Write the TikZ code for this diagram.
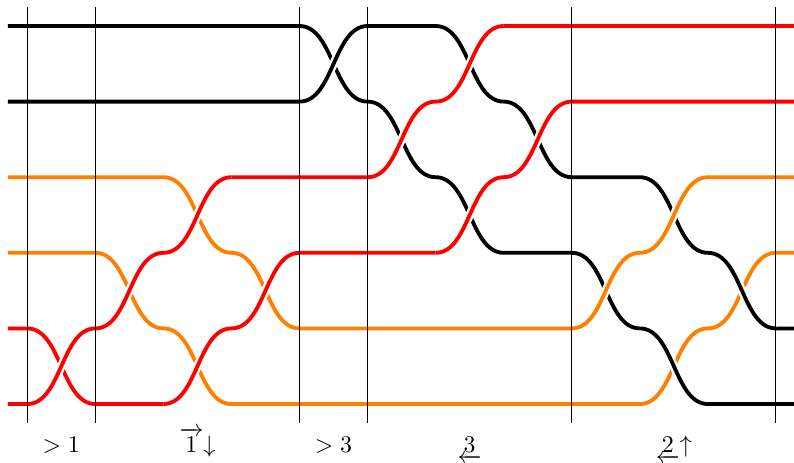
\documentclass[tikz,border=0pt]{standalone}
\usepackage{amsfonts,amssymb,amsmath}
\usepackage{xcolor}
\usepackage{tikz}
\newcommand{\braidto}[3]{.. controls (#1+0.5,#2) and (#1+0.5,#3) .. (#1+1,#3)}
\begin{document}
\begin{tikzpicture}[x=1cm,y=1.1108cm,
  strand/.style={line width=1.6pt},
  over/.style={line width=1.6pt,preaction={draw=white,line width=3.6pt}},
  cut/.style={line width=0.4pt}]
\useasboundingbox (-0.401,-0.780) rectangle (11.265,5.344);
\draw[strand,black](-0.284,5)--(4,5)\braidto{4}{5}{4}--(5,4)\braidto{5}{4}{3}--(6,3)\braidto{6}{3}{2}
--(8,2)\braidto{8}{2}{1}--(9,1)\braidto{9}{1}{0}--(11.3,0);
\draw[strand,black](-0.284,4)--(4,4)\braidto{4}{4}{5}--(6,5)\braidto{6}{5}{4}--(7,4)\braidto{7}{4}{3}
--(9,3)\braidto{9}{3}{2}--(10,2)\braidto{10}{2}{1}--(11.3,1);
\draw[strand,orange](-0.284,3)--(2,3)\braidto{2}{3}{2}--(3,2)\braidto{3}{2}{1}--(8,1)\braidto{8}{1}{2}
--(9,2)\braidto{9}{2}{3}--(11.3,3);
\draw[strand,orange](-0.284,2)--(1,2)\braidto{1}{2}{1}--(2,1)\braidto{2}{1}{0}--(9,0)\braidto{9}{0}{1}
--(10,1)\braidto{10}{1}{2}--(11.3,2);
\draw[strand,red](-0.284,1)--(0,1)\braidto{0}{1}{0}--(2,0)\braidto{2}{0}{1}--(3,1)\braidto{3}{1}{2}
--(6,2)\braidto{6}{2}{3}--(7,3)\braidto{7}{3}{4}--(11.3,4);
\draw[strand,red](-0.284,0)--(0,0)\braidto{0}{0}{1}--(1,1)\braidto{1}{1}{2}--(2,2)\braidto{2}{2}{3}
--(5,3)\braidto{5}{3}{4}--(6,4)\braidto{6}{4}{5}--(11.3,5);
\draw[over,red](0,0)\braidto{0}{0}{1}
(1,1)\braidto{1}{1}{2}
(2,2)\braidto{2}{2}{3}
(2,0)\braidto{2}{0}{1}
(3,1)\braidto{3}{1}{2}
(5,3)\braidto{5}{3}{4}
(6,4)\braidto{6}{4}{5}
(6,2)\braidto{6}{2}{3}
(7,3)\braidto{7}{3}{4};
\draw[over,black](4,4)\braidto{4}{4}{5}
(9,1)\braidto{9}{1}{0}
(10,2)\braidto{10}{2}{1};
\draw[over,orange](8,1)\braidto{8}{1}{2}
(9,2)\braidto{9}{2}{3};
\foreach \x in {0,1,4,5,8,11}
  \draw[cut](\x,-0.251)--(\x,5.251);
\node[anchor=base](gt1) at (0.5,-0.635){$>1$};
\node[anchor=base](down1) at (2.5,-0.635){$\overrightarrow{1}{\downarrow}$};
\node[anchor=base](gt3) at (4.5,-0.635){$>3$};
\node[anchor=base](left3) at (6.5,-0.635){$\underleftarrow{3}$};
\node[anchor=base](up2) at (9.5,-0.635){$\underleftarrow{2}{\uparrow}$};
\end{tikzpicture}
\end{document}
